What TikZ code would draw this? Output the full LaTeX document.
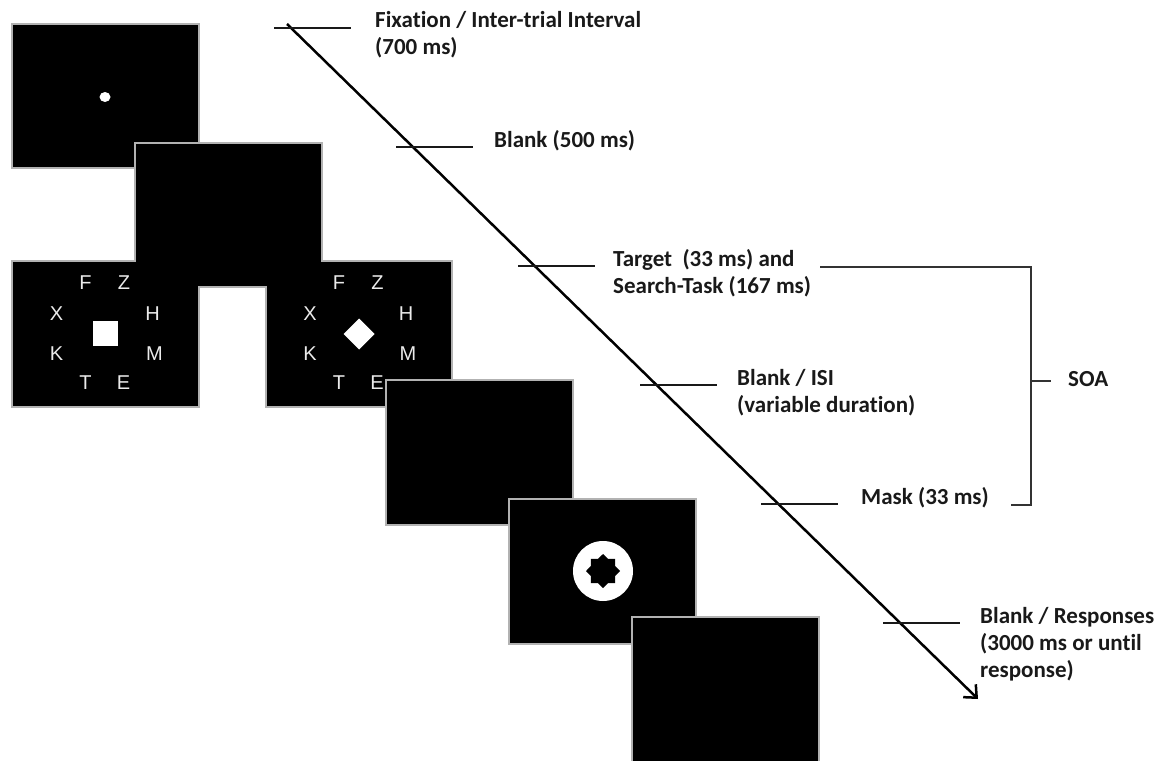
\documentclass[tikz,border=0pt]{standalone}
\usepackage{fontspec}
\setmainfont{Carlito}[Ligatures=NoCommon]
\newfontfamily\letterfont{Liberation Sans}
\usetikzlibrary{arrows.meta,shapes.geometric}
\begin{document}
\begin{tikzpicture}[x=1pt,y=-1pt,
  screen/.style={fill=black, draw=gray!60, line width=1.2pt},
  timeline/.style={line width=2.5pt, draw=black},
  tickline/.style={line width=2.7pt, draw=black!90},
  bracketline/.style={line width=2.1pt, draw=black!80},
  lbl/.style={font=\bfseries\fontsize{23}{27}\selectfont, anchor=base west,
    align=left, inner sep=0pt, text=black!90},
  letter/.style={font=\letterfont\fontsize{20}{22}\selectfont,
    text=white!92!black, inner sep=0pt}]

\useasboundingbox (0,0) rectangle (1172,760);

% fixation screen
\draw[screen] (12,24) rectangle (199,168);
\node[ellipse, fill=white, minimum width=11pt, minimum height=10pt, inner sep=0pt] (fixdot) at (105,97) {};

% blank screen and the two search displays, merged into one black area
\draw[screen] (135,143) rectangle (322,287);
\draw[screen] (12,261) rectangle (199,407);
\draw[screen] (266,261) rectangle (452,407);
\fill[black] (136,144) rectangle (321,286);
\fill[black] (13,262) rectangle (198,406);
\fill[black] (267,262) rectangle (451,406);

% letter rings around the targets
\foreach \s/\cx in {a/105.5, b/359} {
  \foreach \l/\dx/\dy in {F/-20/-51, Z/18.5/-51, X/-49/-20, H/47/-20,
                          K/-49/20, M/49/20, T/-20/49, E/18/49} {
    \node[letter] (\s\l) at (\cx+\dx, 334+\dy) {\l};
  }
}
\fill[white] (93,321) rectangle (118,346);
\fill[white] (359,318.5) -- (374.5,334) -- (359,349.5) -- (343.5,334) -- cycle;

% inter-stimulus blank
\draw[screen] (386,380) rectangle (573,525);

% mask screen
\draw[screen] (509,499) rectangle (696,644);
\node[circle, fill=white, minimum size=60pt, inner sep=0pt] (ring) at (603,571) {};
\node[star, star points=8, star point ratio=1.3, minimum size=34pt,
      fill=black, inner sep=0pt] (maskstar) at (603,571) {};

% response screen
\draw[screen] (632,617) rectangle (819,762);

% time axis
\coordinate (t0) at (287,24);
\coordinate (t1) at (978,699);
\draw[timeline, -{Straight Barb[length=10pt,width=18pt]}] (t0) -- (t1);

% event marks on the axis
\coordinate (c1) at (291,28);
\coordinate (c2) at (413,147);
\coordinate (c3) at (535,266);
\coordinate (c4) at (657,385);
\coordinate (c5) at (778,504);
\coordinate (c6) at (900,623);
\foreach \c in {c1,c2,c3,c4,c5,c6} {
  \draw[tickline] ([xshift=-17pt]\c) -- ([xshift=60pt]\c);
}

% event labels (each placed on the baseline of its last line)
\node[lbl] (fix) at (375,55) {Fixation / Inter-trial Interval\\(700 ms)};
\node[lbl] (blank) at (494,147) {Blank (500 ms)};
\node[lbl] (target) at (613,293) {Target~ (33 ms) and\\Search-Task (167 ms)};
\node[lbl] (isi) at (737,412) {Blank / ISI\\(variable duration)};
\node[lbl] (mask) at (861,504) {Mask (33 ms)};
\node[lbl] (resp) at (980,677) {Blank / Responses\\(3000 ms or until\\response)};
\node[lbl] (soa) at (1068,386) {SOA};

% SOA bracket
\coordinate (b1) at (820,267);
\coordinate (b2) at (1031,267);
\coordinate (b3) at (1031,505);
\coordinate (b4) at (1011,505);
\coordinate (bm) at (1031,381);
\coordinate (bt) at (1051,381);
\draw[bracketline] (b1) -- (b2) -- (b3) -- (b4);
\draw[bracketline] (bm) -- (bt);
\end{tikzpicture}
\end{document}
